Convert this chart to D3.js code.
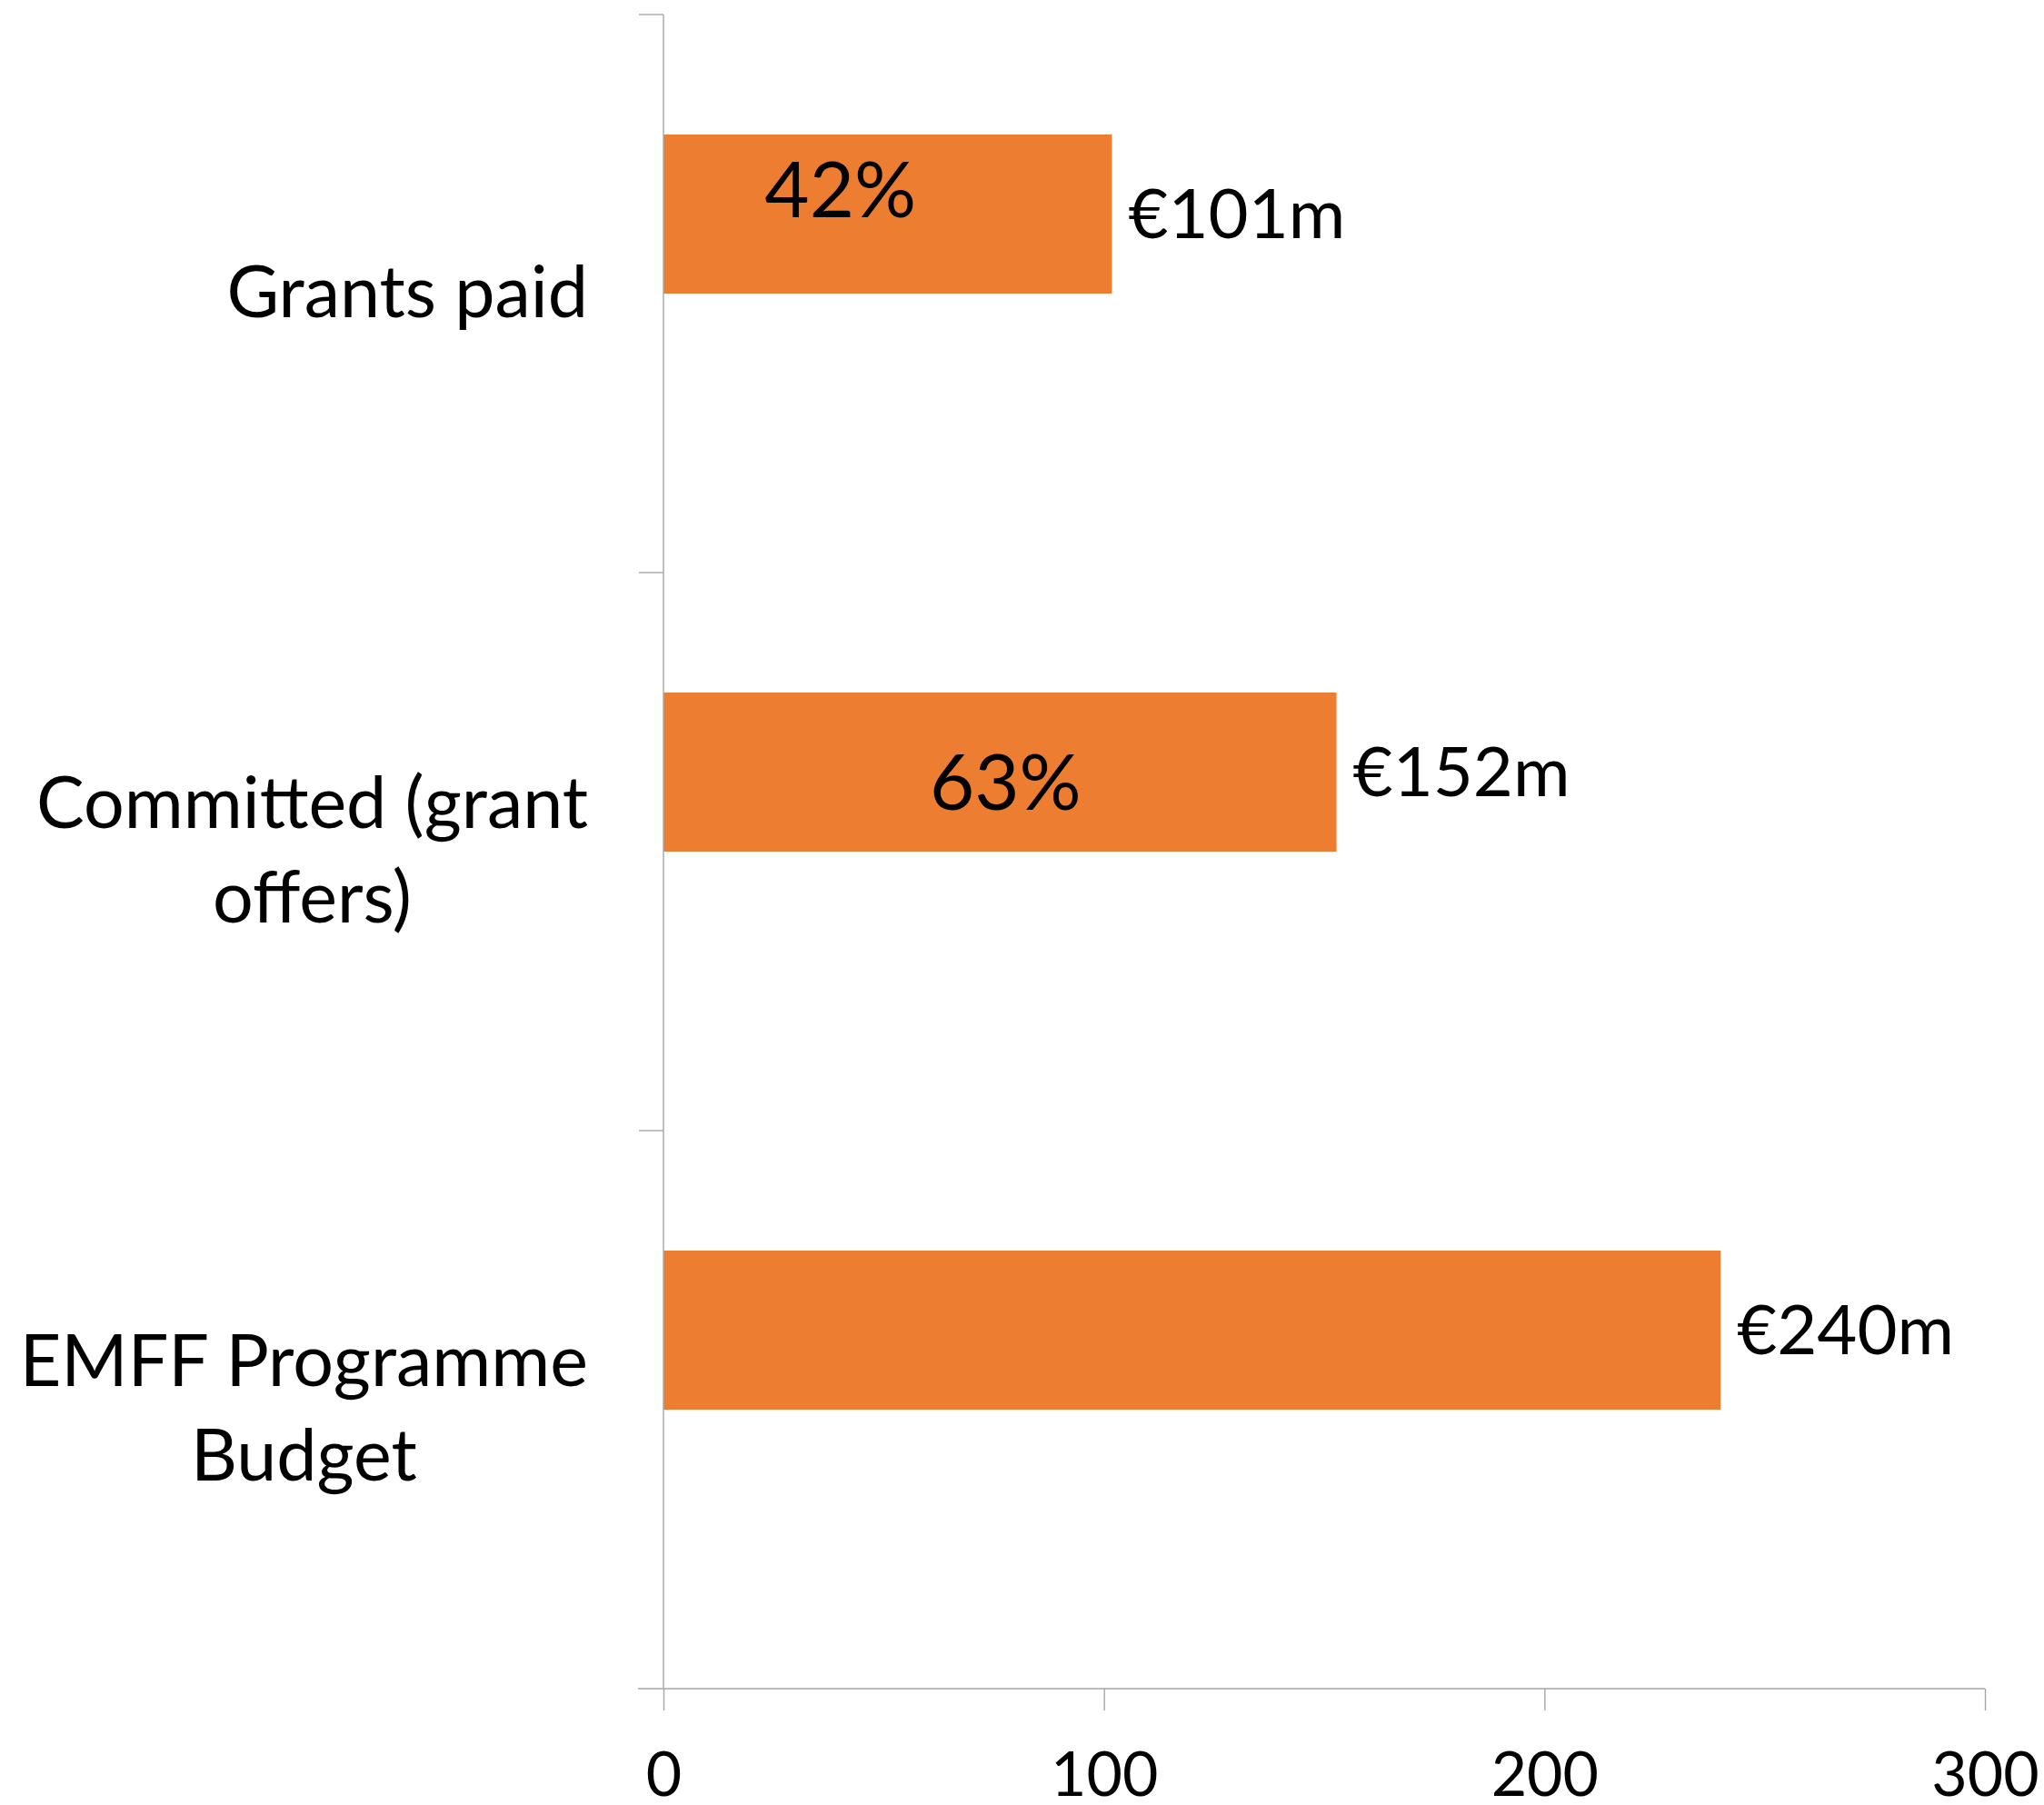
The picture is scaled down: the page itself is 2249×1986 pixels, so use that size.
<!DOCTYPE html>
<html>
  <head>
    <meta charset="UTF-8" />
    <title>EMFF Programme</title>
    <script src="https://d3js.org/d3.v7.min.js"></script>
    <style>
      body {
        margin: 0;
        background: #fff;
      }
      text {
        font-family: Lato, "Open Sans", sans-serif;
        fill: #000;
      }
      .axis path,
      .axis line {
        stroke: #a6a6a6;
        stroke-width: 1.4;
      }
    </style>
  </head>
  <body>
    <svg id="chart"></svg>
    <script>
      // top to bottom, as drawn
      const categories = [
        "Grants paid",
        "Committed (grant offers)",
        "EMFF Programme Budget",
      ];
      const values = [101.8, 152.8, 240];
      const valueLabels = ["€101m", "€152m", "€240m"];
      const pctLabels = ["42%", "63%", ""];
      const xTicks = [0, 100, 200, 300];

      // the percentage labels were nudged by hand in the original
      const pctNudge = [
        { dx: -52, dy: -27 },
        { dx: 6, dy: 11 },
        { dx: 0, dy: 0 },
      ];

      const width = 2249;
      const height = 1986;
      const margin = { top: 16, right: 65, bottom: 128, left: 730 };

      const svg = d3
        .select("#chart")
        .attr("width", width)
        .attr("height", height);

      const x = d3
        .scaleLinear()
        .domain([0, 300])
        .range([margin.left, width - margin.right]);

      const y = d3
        .scaleBand()
        .domain(categories)
        .range([margin.top, height - margin.bottom]);

      // clustered layout with an empty second series, so bars sit high in the band
      const sub = d3
        .scaleBand()
        .domain(["amount", "empty"])
        .range([0, y.bandwidth()])
        .paddingOuter(0.754);

      const x0 = x(0);
      const yBottom = height - margin.bottom;

      // bars
      svg
        .selectAll("rect.bar")
        .data(categories)
        .enter()
        .append("rect")
        .attr("class", "bar")
        .attr("x", x0)
        .attr("y", (d) => y(d) + sub("amount"))
        .attr("width", (d, i) => x(values[i]) - x0)
        .attr("height", sub.bandwidth())
        .attr("fill", "#ED7D31");

      // x axis
      const xAxis = svg
        .append("g")
        .attr("class", "axis")
        .attr("transform", `translate(0,${yBottom})`)
        .call(
          d3.axisBottom(x).tickValues(xTicks).tickSize(24).tickSizeOuter(0)
        );
      xAxis.select(".domain").attr("d", `M${x0 - 28},0H${x(300)}`);
      xAxis
        .selectAll("text")
        .attr("y", 118)
        .attr("dy", null)
        .style("font-size", "68px");

      // y axis: line with ticks at band edges
      const yEdges = categories.map((d) => y(d));
      const yAxis = svg.append("g").attr("class", "axis");
      yAxis
        .append("line")
        .attr("x1", x0)
        .attr("x2", x0)
        .attr("y1", margin.top)
        .attr("y2", yBottom);
      yAxis
        .selectAll("line.tick")
        .data(yEdges)
        .enter()
        .append("line")
        .attr("class", "tick")
        .attr("x1", x0 - 27)
        .attr("x2", x0)
        .attr("y1", (d) => d)
        .attr("y2", (d) => d);

      // category labels, wrapped and centred like the original
      const labelRight = 647;
      const lineHeight = 104;
      const labelSize = 79;

      const wrap = (str, maxW) => {
        const probe = svg
          .append("text")
          .style("font-size", labelSize + "px")
          .attr("visibility", "hidden");
        const words = str.split(" ");
        const lines = [];
        let line = [];
        words.forEach((w) => {
          probe.text(line.concat([w]).join(" "));
          if (probe.node().getComputedTextLength() > maxW && line.length) {
            lines.push(line.join(" "));
            line = [w];
          } else {
            line.push(w);
          }
        });
        lines.push(line.join(" "));
        let widest = 0;
        lines.forEach((l) => {
          probe.text(l);
          widest = Math.max(widest, probe.node().getComputedTextLength());
        });
        probe.remove();
        return { lines, widest };
      };

      categories.forEach((c) => {
        const { lines, widest } = wrap(c, 640);
        const cx = labelRight - widest / 2;
        const cy = y(c) + y.bandwidth() / 2;
        const t = svg
          .append("text")
          .attr("text-anchor", "middle")
          .style("font-size", labelSize + "px");
        lines.forEach((l, i) => {
          t.append("tspan")
            .attr("x", cx)
            .attr("y", cy + 26 + (i - (lines.length - 1) / 2) * lineHeight)
            .text(l);
        });
      });

      // value labels
      svg
        .selectAll("text.value")
        .data(categories)
        .enter()
        .append("text")
        .attr("class", "value")
        .attr("x", (d, i) => x(values[i]) + 18)
        .attr("y", (d) => y(d) + sub("amount") + sub.bandwidth() / 2 + 27)
        .style("font-size", "76px")
        .text((d, i) => valueLabels[i]);

      // percentage labels inside bars
      svg
        .selectAll("text.pct")
        .data(categories)
        .enter()
        .append("text")
        .attr("class", "pct")
        .attr("text-anchor", "middle")
        .attr("x", (d, i) => (x0 + x(values[i])) / 2 + pctNudge[i].dx)
        .attr(
          "y",
          (d, i) =>
            y(d) + sub("amount") + sub.bandwidth() / 2 + 31 + pctNudge[i].dy
        )
        .style("font-size", "85px")
        .text((d, i) => pctLabels[i]);
    </script>
  </body>
</html>
